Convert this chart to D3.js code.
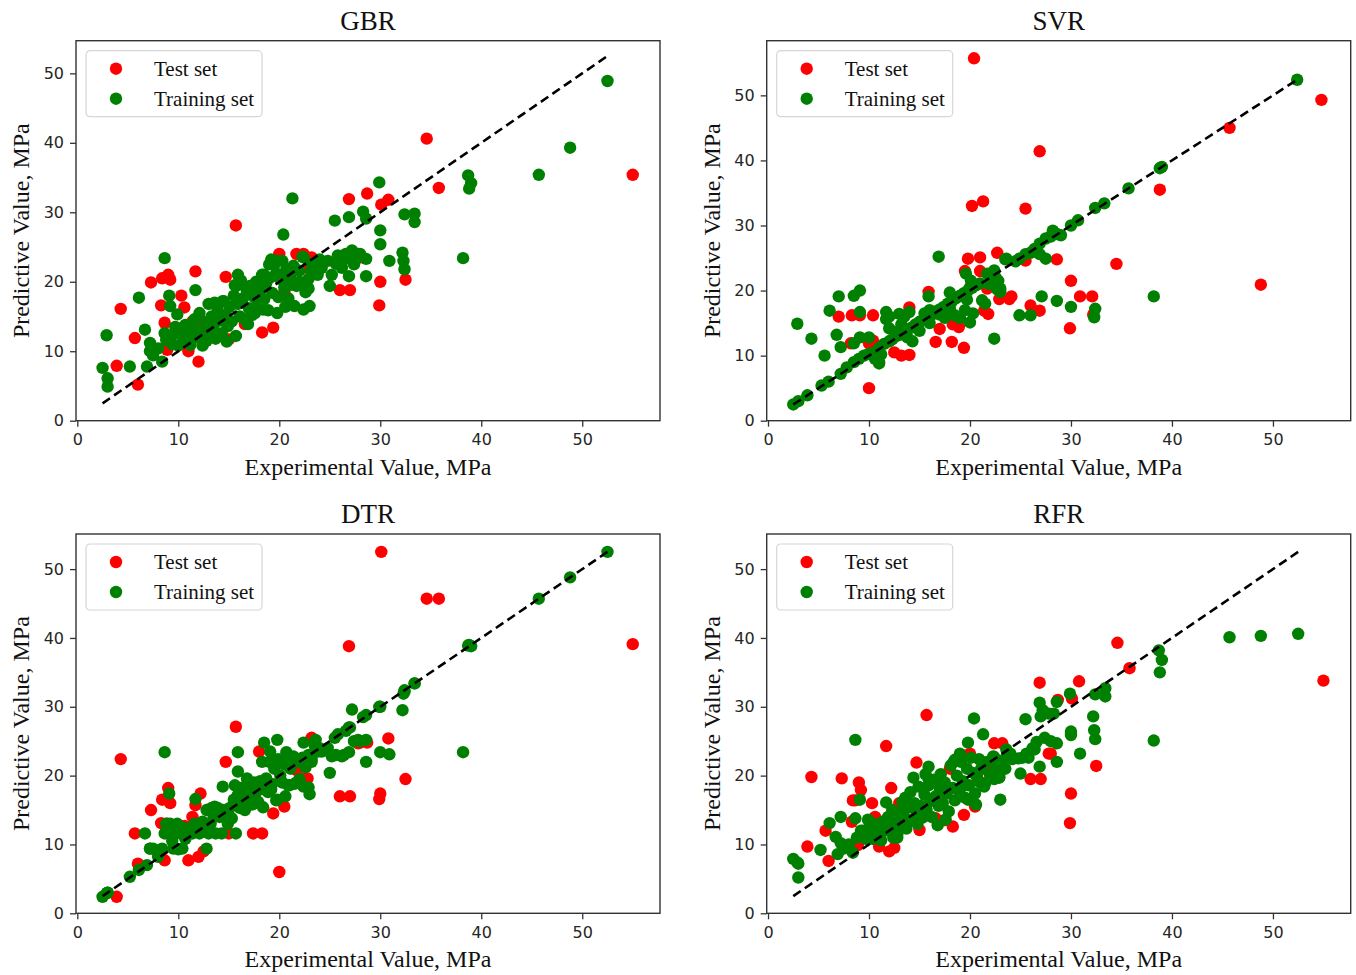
<!DOCTYPE html>
<html>
<head>
<meta charset="utf-8">
<script src="https://cdn.jsdelivr.net/npm/d3@7"></script>
<style>
  body { margin: 0; background: #fff; }
</style>
</head>
<body>
<svg id="fig" width="1356" height="975"></svg>
<script>
// ---------- shared split used by GBR, DTR and RFR ----------
// experimental strength of the training samples (MPa)
const expTrain = [
  52.5, 48.8, 45.7, 38.7, 39.0, 38.8, 38.2, 29.9, 21.3, 20.4,
  25.5, 26.9, 28.3, 28.6, 33.4, 33.4, 32.4, 32.2, 32.3, 32.4,
  30.0, 30.0, 30.9, 28.6, 28.6, 26.9, 25.0, 27.2, 27.0, 23.0,
  22.4, 21.5, 19.8, 6.1, 8.65, 9.1, 6.7, 11.7, 2.9, 2.5,
  3.0, 3.0, 5.2, 6.9, 7.2, 7.2, 8.4, 8.65, 9.9, 15.9,
  15.9, 14.4, 10.4, 12.8, 18.5, 19.8, 22.4, 23.6, 19.0, 24.2,
  24.8, 25.6, 26.2, 26.6, 27.4, 28.0, 25.2, 23.2, 22.9, 22.0,
  21.0, 7.5, 8.0, 8.8, 9.2, 9.5, 24.0, 25.8, 26.4, 27.8,
  23.8,
  9.4, 9.7, 10.0, 10.2, 10.5, 10.7, 11.0, 11.2, 11.4, 11.6,
  11.9, 12.1, 12.3, 12.6, 12.8, 13.0, 13.2, 13.3, 13.5, 13.7,
  13.9, 14.1, 14.3, 14.5, 14.7, 14.9, 15.1, 15.3, 15.5, 15.7,
  15.9, 16.1, 16.2, 16.4, 16.6, 16.8, 17.0, 17.1, 17.3, 17.5,
  17.7, 17.9, 18.1, 18.3, 18.5, 18.7, 18.9, 19.1, 19.3, 19.5,
  19.7, 19.9, 20.1, 20.3, 20.5, 20.7, 20.9, 21.1, 21.4, 21.7,
  22.0, 22.3, 22.6, 22.9, 23.2, 23.5, 12.4, 13.6, 14.8, 15.6,
  16.9, 17.6, 18.4, 19.2, 20.6
];
const gbrTrain = [
  48.9, 39.3, 35.4, 35.3, 34.2, 33.4, 23.4, 34.3, 32.0, 26.8,
  28.8, 29.3, 30.1, 29.1, 29.8, 28.6, 29.7, 24.2, 23.0, 21.8,
  27.4, 25.4, 23.0, 23.3, 20.8, 20.8, 19.4, 24.5, 23.5, 16.5,
  16.0, 16.5, 15.5, 17.7, 23.4, 18.0, 13.1, 18.8, 12.3, 7.6,
  6.1, 4.9, 7.8, 7.8, 11.2, 10.0, 8.5, 12.6, 15.3, 21.0,
  19.5, 17.2, 12.5, 11.5, 21.0, 23.0, 23.5, 22.0, 22.5, 22.0,
  23.0, 22.6, 22.0, 24.0, 22.5, 24.0, 21.0, 21.5, 19.0, 20.0,
  19.5, 9.4, 10.4, 11.6, 16.5, 12.4, 23.2, 23.8, 23.2, 23.6,
  21.0,
  11.0, 13.5, 10.8, 12.8, 11.5, 13.8, 12.2, 10.9, 13.0, 14.6,
  12.0, 15.5, 13.2, 11.8, 14.2, 16.8, 12.8, 15.0, 13.8, 11.8,
  16.0, 14.4, 12.6, 17.2, 15.2, 13.6, 16.4, 14.3, 18.0, 12.2,
  16.8, 15.0, 20.2, 17.6, 14.6, 18.6, 16.2, 19.4, 15.2, 17.8,
  20.0, 16.8, 18.9, 21.0, 17.5, 19.8, 15.9, 20.6, 18.4, 22.4,
  21.2, 17.8, 20.4, 23.0, 19.2, 21.8, 17.6, 20.7, 22.3, 19.4,
  21.6, 23.6, 18.5, 20.4, 22.6, 21.2, 10.8, 17.0, 11.4, 19.5,
  13.9, 15.5, 16.0, 23.2, 16.4
];
const dtrTrain = [
  52.5, 48.8, 45.7, 38.9, 38.8, 39.0, 23.4, 30.0, 22.5, 22.0,
  25.5, 27.0, 28.5, 28.8, 33.4, 33.4, 32.4, 29.5, 31.9, 32.2,
  30.0, 23.4, 23.1, 25.2, 22.0, 23.4, 20.4, 29.6, 27.0, 17.3,
  18.4, 18.8, 16.5, 6.3, 23.4, 17.4, 11.6, 16.6, 2.9, 2.4,
  3.0, 3.0, 5.3, 7.0, 9.4, 9.4, 9.4, 11.6, 13.0, 23.4,
  20.6, 18.4, 9.4, 9.4, 24.8, 25.2, 24.8, 25.2, 22.0, 23.5,
  24.0, 23.0, 22.8, 26.5, 25.0, 25.0, 22.8, 22.0, 18.3, 19.5,
  18.6, 9.4, 8.2, 13.0, 13.0, 9.4, 24.0, 26.0, 23.0, 25.2,
  23.5,
  10.5, 11.6, 9.3, 11.6, 12.4, 10.8, 11.6, 12.4, 11.6, 13.0,
  12.4, 11.6, 13.0, 12.4, 15.0, 11.6, 13.0, 15.3, 14.0, 11.6,
  15.3, 14.0, 11.6, 15.0, 14.5, 13.0, 15.3, 13.8, 16.5, 11.6,
  17.2, 15.3, 18.2, 16.6, 15.0, 19.6, 17.0, 18.2, 15.8, 19.0,
  17.6, 16.2, 19.2, 22.0, 18.0, 19.6, 17.6, 23.5, 18.8, 21.0,
  16.4, 22.4, 20.0, 19.0, 21.6, 23.4, 18.6, 21.0, 22.8, 19.0,
  22.0, 22.6, 21.2, 23.0, 22.4, 24.4, 13.3, 15.5, 14.8, 18.6,
  16.2, 16.0, 15.4, 18.0, 17.0
];
const rfrTrain = [
  40.6, 40.3, 40.1, 38.2, 36.8, 35.0, 25.1, 31.9, 26.0, 28.3,
  28.2, 30.6, 29.0, 30.7, 32.7, 31.5, 31.8, 28.6, 26.6, 25.3,
  26.4, 25.9, 23.2, 24.7, 22.0, 21.3, 20.3, 29.5, 28.6, 16.5,
  19.5, 18.9, 16.5, 13.1, 25.2, 16.5, 11.1, 16.1, 7.4, 7.9,
  7.2, 5.2, 9.2, 8.6, 14.0, 10.2, 8.8, 13.8, 13.6, 21.3,
  19.5, 19.7, 10.8, 11.0, 22.3, 24.8, 22.7, 23.8, 23.2, 22.4,
  22.5, 23.2, 24.0, 24.9, 25.5, 25.0, 22.6, 21.0, 19.7, 20.1,
  19.0, 9.4, 10.0, 11.0, 12.0, 11.6, 23.2, 22.6, 23.8, 29.0,
  22.8,
  12.0, 10.8, 12.4, 11.2, 13.0, 11.5, 12.6, 10.6, 13.3, 12.0,
  14.0, 12.4, 15.0, 13.2, 11.4, 14.6, 12.8, 16.2, 14.0, 12.3,
  15.4, 17.6, 13.5, 16.0, 14.6, 18.4, 15.6, 13.9, 17.2, 15.0,
  18.6, 16.3, 14.0, 19.4, 17.0, 12.8, 18.2, 20.2, 16.0, 19.0,
  17.4, 14.8, 21.5, 18.2, 16.4, 20.0, 17.8, 22.0, 19.2, 16.8,
  21.0, 18.6, 22.6, 20.4, 17.4, 19.8, 22.4, 21.0, 18.4, 22.0,
  20.2, 22.8, 21.4, 19.8, 22.2, 21.0, 11.0, 16.8, 13.0, 20.2,
  15.6, 13.6, 22.0, 18.4, 15.8
];

// experimental strength of the test samples (MPa)
const expTest = [
  55.0, 34.6, 35.8, 30.1, 30.8, 28.7, 26.9, 15.7, 30.0, 29.9,
  32.5, 26.0, 27.0, 27.8, 20.0, 21.7, 22.4, 11.7, 14.7, 7.3,
  8.4, 9.0, 9.2, 4.3, 5.7, 3.9, 6.0, 12.0, 11.0, 18.3,
  19.4, 8.3, 8.65, 10.3, 10.6, 12.5, 15.0, 16.6, 11.4, 8.9,
  12.2, 17.4, 20.5, 13.0, 18.0, 22.8, 23.2, 28.0
];
const gbrTest = [
  35.4, 40.6, 33.5, 31.1, 31.8, 32.7, 31.9, 28.1, 20.0, 16.6,
  20.3, 18.8, 18.8, 24.0, 24.0, 24.0, 24.0, 21.5, 20.7, 19.9,
  20.5, 21.0, 20.3, 16.1, 11.9, 7.9, 5.2, 8.5, 10.0, 12.7,
  13.4, 16.6, 14.1, 18.0, 16.3, 11.2, 11.7, 13.9, 14.3, 10.2,
  14.5, 15.5, 18.5, 12.0, 17.0, 22.0, 23.5, 23.5
];
const dtrTest = [
  39.1, 45.7, 45.7, 52.5, 25.4, 24.8, 38.8, 27.1, 17.4, 16.6,
  19.5, 17.0, 17.0, 24.7, 6.0, 20.8, 19.6, 15.7, 22.0, 15.0,
  16.5, 18.2, 16.0, 22.4, 11.6, 2.4, 7.2, 8.2, 7.7, 11.6,
  14.5, 13.1, 7.7, 12.5, 12.7, 9.0, 11.6, 18.4, 14.0, 13.0,
  17.4, 11.6, 15.5, 12.0, 23.5, 19.6, 25.5, 24.8
];
const rfrTest = [
  33.8, 39.3, 35.6, 31.2, 33.7, 31.0, 33.5, 28.8, 17.4, 13.1,
  21.4, 19.5, 19.5, 23.2, 23.2, 20.8, 24.7, 24.3, 21.9, 19.6,
  16.4, 19.0, 17.9, 19.8, 12.0, 9.7, 7.6, 9.0, 9.7, 12.6,
  14.3, 13.3, 16.4, 16.0, 14.0, 9.5, 12.1, 13.8, 13.3, 9.9,
  18.2, 13.5, 15.5, 16.0, 21.0, 20.5, 24.7, 23.2
];

// ---------- SVR was fitted on its own split ----------
const svrExpTrain = [
  52.4, 38.8, 39.0, 35.7, 33.3, 32.4, 30.7, 30.0, 28.6, 28.2,
  27.5, 26.9, 26.4, 25.5, 24.9, 23.6, 27.5, 26.9, 27.1, 28.6,
  30.0, 32.4, 32.3, 24.9, 26.0, 38.2, 22.4, 16.9, 23.0, 22.8,
  22.5, 21.7, 22.4, 21.2, 20.0, 19.6, 20.1, 20.0, 15.9, 7.0,
  8.5, 9.1, 6.1, 9.1, 11.7, 11.7, 13.0, 14.0, 2.9, 4.3,
  6.8, 7.2, 5.6, 8.5, 9.1, 10.0, 11.0, 2.5, 3.0, 3.9,
  5.3, 6.0, 7.2, 7.8, 8.5, 9.0, 9.5, 10.0, 10.5, 11.0,
  11.5, 12.0, 12.3, 12.7, 13.0, 13.4, 13.8, 14.2, 14.6, 15.0,
  15.4, 15.8, 16.2, 16.6, 17.0, 17.4, 17.8, 18.2, 18.6, 19.0,
  19.4, 19.8, 20.2, 20.6, 21.0, 18.0, 19.7, 19.5, 20.3, 19.0,
  18.5, 17.5, 16.5, 16.0, 15.0, 14.3, 13.8, 13.2, 12.6, 12.0,
  11.2, 10.6, 11.0, 12.0, 13.5, 15.5, 16.0, 17.0, 18.0, 21.5,
  21.9, 22.7, 23.0, 23.5, 24.5, 26.0, 28.0, 29.0
];
const svrPredTrain = [
  52.4, 38.8, 39.0, 35.7, 33.4, 32.7, 30.8, 30.0, 28.7, 29.2,
  28.0, 27.2, 26.4, 25.6, 24.9, 24.9, 24.9, 25.6, 19.1, 18.4,
  17.5, 17.2, 15.9, 16.2, 16.2, 19.1, 12.6, 25.2, 20.3, 21.5,
  22.1, 22.6, 23.1, 18.5, 20.5, 22.6, 21.5, 15.1, 19.1, 19.1,
  19.2, 20.0, 16.9, 16.7, 16.7, 15.6, 16.4, 16.7, 14.9, 12.6,
  13.2, 11.3, 10.0, 11.9, 12.8, 12.8, 9.0, 2.5, 3.0, 3.9,
  5.4, 6.0, 7.2, 8.2, 9.0, 9.5, 10.0, 10.3, 10.5, 11.2,
  11.8, 12.2, 12.5, 13.0, 13.2, 13.5, 14.0, 14.3, 14.8, 15.2,
  15.5, 16.0, 16.3, 16.8, 17.1, 17.5, 18.0, 18.3, 18.8, 19.2,
  19.6, 20.0, 20.4, 20.8, 21.1, 19.7, 18.6, 17.0, 16.5, 15.8,
  16.2, 15.8, 16.5, 15.0, 13.8, 12.2, 12.8, 14.8, 13.6, 14.2,
  10.2, 9.5, 8.8, 16.0, 16.0, 16.5, 17.0, 16.3, 17.3, 18.0,
  21.0, 20.2, 19.8, 24.8, 24.5, 25.8, 28.3, 28.5
];
const svrExpTest = [
  20.4, 54.8, 45.7, 26.9, 38.8, 20.2, 21.3, 25.5, 34.5, 48.8,
  30.0, 30.9, 32.1, 28.6, 29.9, 22.7, 19.8, 21.0, 19.5, 21.0,
  22.9, 23.9, 24.1, 26.0, 26.9, 25.5, 21.7, 21.4, 21.8, 7.0,
  8.3, 9.1, 10.4, 8.2, 10.0, 10.4, 10.0, 12.5, 13.2, 14.0,
  16.6, 18.2, 19.4, 18.3, 18.9, 17.0, 15.9, 14.0, 32.2
];
const svrPredTest = [
  55.7, 49.3, 45.0, 41.4, 35.5, 33.0, 33.7, 32.6, 24.1, 20.9,
  21.5, 19.1, 19.1, 24.8, 14.2, 25.8, 24.9, 25.1, 23.0, 23.0,
  18.7, 18.7, 19.1, 17.7, 16.9, 24.6, 20.3, 16.9, 16.4, 16.0,
  16.2, 16.2, 16.2, 11.9, 11.9, 12.3, 5.0, 10.5, 10.0, 10.1,
  12.1, 12.1, 11.2, 14.8, 14.4, 14.1, 19.8, 17.4, 16.3
];

// ideal-fit reference line y = x
const idealLine = [2.5, 52.5];
const xTicks = [0, 10, 20, 30, 40, 50];
const yTicks = [0, 10, 20, 30, 40, 50];
const legendLabels = ["Test set", "Training set"];

// ---------- layout ----------
const panels = [
  { title: "GBR", left: 76,    top: 40.7, w: 584, h: 380,   yMax: 54.7,
    trX: expTrain, trY: gbrTrain, teX: expTest, teY: gbrTest },
  { title: "SVR", left: 766.7, top: 40.7, w: 584, h: 380,   yMax: 58.4,
    trX: svrExpTrain, trY: svrPredTrain, teX: svrExpTest, teY: svrPredTest },
  { title: "DTR", left: 76,    top: 534,  w: 584, h: 379.3, yMax: 55.1,
    trX: expTrain, trY: dtrTrain, teX: expTest, teY: dtrTest },
  { title: "RFR", left: 766.7, top: 534,  w: 584, h: 379.3, yMax: 55.1,
    trX: expTrain, trY: rfrTrain, teX: expTest, teY: rfrTest }
];
const xDomain = [-0.13, 57.7];

const SERIF = "'Liberation Serif','Times New Roman',serif";
const SANS = "'DejaVu Sans',sans-serif";
const RED = "#ff0000", GREEN = "#008000";
const R = 6.2;

const svg = d3.select("#fig");

panels.forEach(p => {
  const g = svg.append("g").attr("transform", `translate(${p.left},${p.top})`);
  const x = d3.scaleLinear().domain(xDomain).range([0, p.w]);
  const y = d3.scaleLinear().domain([0, p.yMax]).range([p.h, 0]);

  // test set first, then training set on top
  g.append("g").selectAll("circle")
    .data(d3.zip(p.teX, p.teY))
    .join("circle")
    .attr("cx", d => x(d[0])).attr("cy", d => y(d[1]))
    .attr("r", R).attr("fill", RED);

  g.append("g").selectAll("circle")
    .data(d3.zip(p.trX, p.trY))
    .join("circle")
    .attr("cx", d => x(d[0])).attr("cy", d => y(d[1]))
    .attr("r", R).attr("fill", GREEN);

  // y = x dashed line
  g.append("line")
    .attr("x1", x(idealLine[0])).attr("y1", y(idealLine[0]))
    .attr("x2", x(idealLine[1])).attr("y2", y(idealLine[1]))
    .attr("stroke", "#000").attr("stroke-width", 2.6)
    .attr("stroke-dasharray", "9,5");

  // axes
  const xa = g.append("g").attr("transform", `translate(0,${p.h})`)
    .call(d3.axisBottom(x).tickValues(xTicks).tickSize(6).tickPadding(7).tickFormat(d3.format("d")));
  const ya = g.append("g")
    .call(d3.axisLeft(y).tickValues(yTicks).tickSize(6).tickPadding(6).tickFormat(d3.format("d")));
  [xa, ya].forEach(a => {
    a.select(".domain").remove();
    a.selectAll(".tick line").attr("stroke", "#333").attr("stroke-width", 1.3);
    a.selectAll(".tick text").attr("fill", "#262626")
      .style("font-family", SANS).style("font-size", "16px");
  });

  // frame
  g.append("rect").attr("width", p.w).attr("height", p.h)
    .attr("fill", "none").attr("stroke", "#333").attr("stroke-width", 1.4);

  // title and axis labels
  g.append("text").attr("x", p.w / 2).attr("y", -11)
    .attr("text-anchor", "middle").style("font-family", SERIF).style("font-size", "27px")
    .attr("fill", "#111").text(p.title);
  g.append("text").attr("x", p.w / 2).attr("y", p.h + 54)
    .attr("text-anchor", "middle").style("font-family", SERIF).style("font-size", "24px")
    .attr("fill", "#111").text("Experimental Value, MPa");
  g.append("text")
    .attr("transform", `translate(-47,${p.h / 2}) rotate(-90)`)
    .attr("text-anchor", "middle").style("font-family", SERIF).style("font-size", "24px")
    .attr("fill", "#111").text("Predictive Value, MPa");

  // legend
  const lg = g.append("g").attr("transform", "translate(10,10)");
  lg.append("rect").attr("width", 176).attr("height", 66).attr("rx", 4)
    .attr("fill", "#fff").attr("fill-opacity", 0.85)
    .attr("stroke", "#d6d6d6").attr("stroke-width", 1.2);
  legendLabels.forEach((lab, i) => {
    const row = lg.append("g").attr("transform", `translate(0,${18 + i * 30})`);
    row.append("circle").attr("cx", 30).attr("cy", 0).attr("r", R)
      .attr("fill", i === 0 ? RED : GREEN);
    row.append("text").attr("x", 68).attr("y", 7)
      .style("font-family", SERIF).style("font-size", "21px").attr("fill", "#111").text(lab);
  });
});
</script>
</body>
</html>
